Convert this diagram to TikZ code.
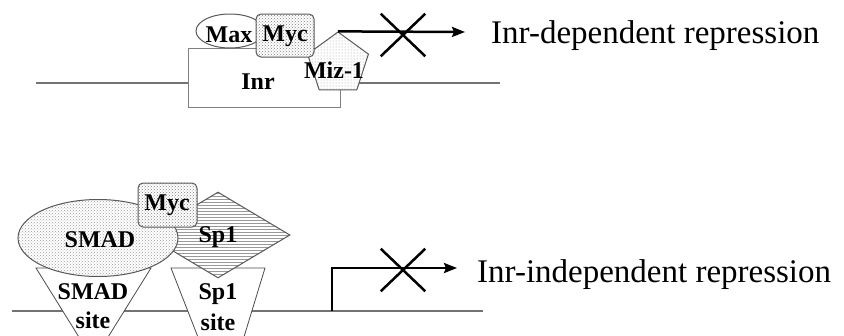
\documentclass[tikz,border=0pt]{standalone}
\usepackage{fontspec}
\setmainfont{Liberation Serif}
\usetikzlibrary{arrows.meta,shapes.geometric,shapes.misc,patterns}
\tikzset{
  dna/.style={draw=black!55,line width=1.5pt},
  prot/.style={draw=black!65,line width=1pt,inner sep=0pt,preaction={fill=white}},
  mycblk/.style={prot,rectangle,rounded corners=5pt,pattern=crosshatch dots,pattern color=black!50},
  maxell/.style={prot,ellipse,fill=white},
  smadell/.style={prot,ellipse,pattern=crosshatch dots,pattern color=black!38},
  mizpent/.style={prot,regular polygon,regular polygon sides=5,pattern=dots,pattern color=black!40},
  sp1dmd/.style={prot,diamond,pattern=horizontal lines,pattern color=black!40},
  inrblk/.style={draw=black!50,line width=1pt,fill=white,rectangle,inner sep=0pt},
  siteblk/.style={draw=black!70,line width=0.8pt,fill=white},
  prom/.style={-{Stealth[length=13pt,width=10pt,inset=2pt]},line width=2.5pt},
  xout/.style={cross out,draw,line width=2.5pt,inner sep=0pt,minimum width=42pt,minimum height=40pt},
  lbl/.style={font=\fontsize{24}{26}\selectfont\bfseries,inner sep=0pt},
  txt/.style={font=\fontsize{33}{36}\selectfont,inner sep=0pt}
}
\begin{document}
\begin{tikzpicture}[x=1pt,y=-1pt]
  \useasboundingbox (0,0) rectangle (844,335);
  % Inr-dependent repression
  \draw[dna] (36,83) -- (500,83);
  \node[inrblk,minimum width=152pt,minimum height=59pt] (inr) at (264,77.5) {};
  \node[lbl] (inrtxt) at (258,82) {Inr};
  \node[maxell,minimum width=68pt,minimum height=34pt] (max) at (230,31) {};
  \node[lbl] (maxtxt) at (229,35) {Max};
  \node[mizpent,minimum size=64pt] (miz) at (338,64) {};
  \node[lbl] (miztxt) at (334,70) {Miz-1};
  \node[mycblk,minimum width=58pt,minimum height=43pt] (myc) at (285,35.5) {};
  \node[lbl] (myctxt) at (285,36) {Myc};
  \coordinate (tipA) at (465,32);
  \draw[prom] (miz.corner 1) -- (tipA);
  \node[xout] (xa) at (403,35) {};
  \node[txt,anchor=base west] (repA) at (491,43) {Inr-dependent repression};

  % Inr-independent repression
  \draw[dna] (12,311) -- (483,311);
  \draw[siteblk] (36,268) -- (151,268) -- (100,350) -- (87,350) -- cycle;
  \draw[siteblk] (171,268) -- (265,268) -- (240,350) -- (203,350) -- cycle;
  \node[lbl] (smadsite) at (93,292) {SMAD};
  \node[lbl] (smadsite2) at (93,320) {site};
  \node[lbl] (spsite) at (218,294) {Sp1};
  \node[lbl] (spsite2) at (218,322) {site};
  \node[sp1dmd,minimum width=144pt,minimum height=86pt] (sp1) at (218,235) {};
  \node[lbl] (sp1txt) at (218,237) {Sp1};
  \node[smadell,minimum width=160pt,minimum height=77pt] (smad) at (98,238) {};
  \node[lbl] (smadtxt) at (100,240) {SMAD};
  \node[mycblk,minimum width=59pt,minimum height=44pt] (mycb) at (167.5,205) {};
  \node[lbl] (mycbtxt) at (167,205) {Myc};
  \coordinate (tss) at (332,311);
  \coordinate (tipB) at (457,268);
  \draw[prom] (tss) |- (tipB);
  \node[xout] (xb) at (403,270) {};
  \node[txt,anchor=base west] (repB) at (477,282) {Inr-independent repression};
\end{tikzpicture}
\end{document}
